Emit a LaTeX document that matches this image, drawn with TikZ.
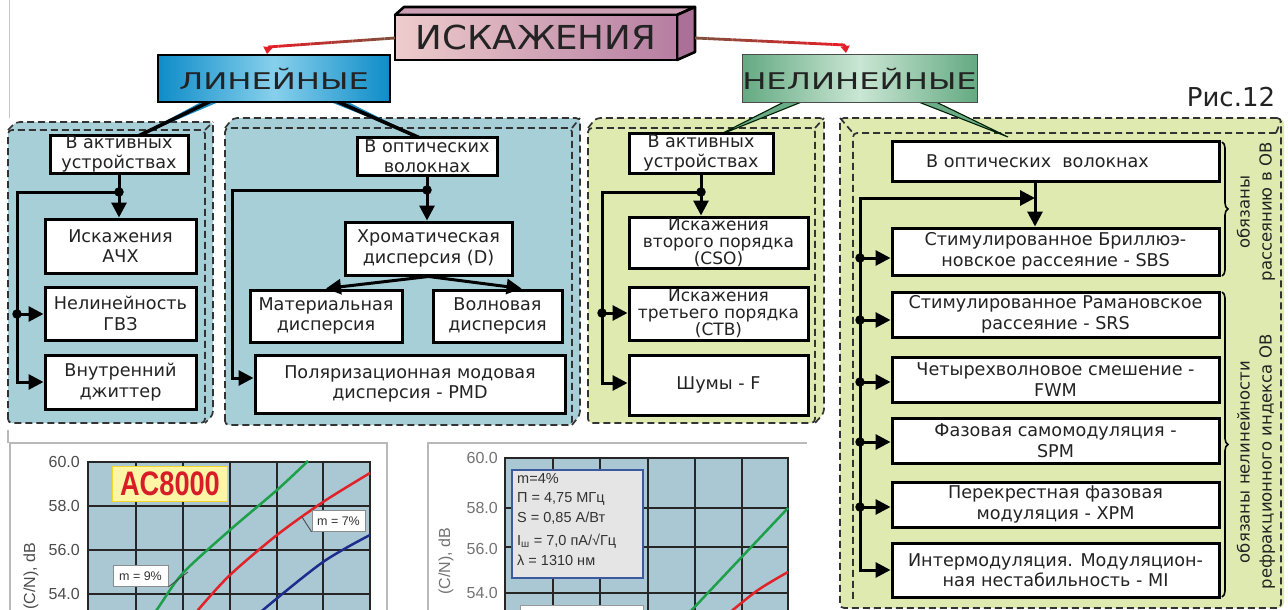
\documentclass[tikz,border=0pt]{standalone}
\usepackage{fontspec}
\setmainfont{DejaVu Sans}
\newfontfamily\arialf{Liberation Sans}
\usetikzlibrary{arrows.meta,decorations.pathreplacing,calc}
\definecolor{panblue}{RGB}{166,207,216}
\definecolor{pangreen}{RGB}{222,234,176}
\definecolor{txt}{RGB}{35,35,35}
\definecolor{linL}{RGB}{14,140,200}
\definecolor{linM}{RGB}{135,208,236}
\definecolor{nelL}{RGB}{100,170,130}
\definecolor{nelM}{RGB}{202,230,212}
\definecolor{iskL}{RGB}{238,204,204}
\definecolor{iskR}{RGB}{182,126,162}
\definecolor{iskTop}{RGB}{205,160,182}
\definecolor{iskSide}{RGB}{170,112,152}
\definecolor{brn}{RGB}{130,80,60}
\definecolor{rd}{RGB}{228,30,40}
\definecolor{plotbg}{RGB}{170,200,212}
\definecolor{cgreen}{RGB}{30,160,75}
\definecolor{cred}{RGB}{225,35,40}
\definecolor{cblue}{RGB}{30,45,140}
\definecolor{acy}{RGB}{255,246,165}
\definecolor{acb}{RGB}{245,215,40}
\definecolor{acr}{RGB}{215,30,40}
\definecolor{infob}{RGB}{60,90,160}
\definecolor{tailb}{RGB}{25,140,195}
\definecolor{tailg}{RGB}{105,172,135}
\newcommand\bxf{\fontsize{17.6}{20.5}\selectfont}
\newcommand\bxs{\fontsize{17}{16.6}\selectfont}
\newcommand\mkbox[7][]{%
  \node[bx,#1,minimum width={(#5-#3)*1pt},minimum height={(#6-#4)*1pt}] (#2) at ({(#3+#5)/2},{(#4+#6)/2}) {#7};}
\tikzset{
  bx/.style={draw=black,line width=3pt,fill=white,text=txt,align=center,inner sep=0pt,font=\bxf},
  conn/.style={draw=black,line width=3pt},
  arr/.style={conn,-{Triangle[length=15pt,width=15pt]}},
  jdot/.style={circle,fill=black,inner sep=0pt,minimum size=9.5pt},
  pan/.style={draw=black!80,line width=1.7pt,dash pattern=on 7pt off 4pt,rounded corners=4pt},
  ax/.style={font=\arialf\fontsize{16}{18}\selectfont,text=black!70,inner sep=0pt},
  grd/.style={draw=black!85,line width=1.4pt},
  crv/.style={line width=2.5pt},
  mlab/.style={draw=black!45,fill=white,line width=0.8pt,font=\arialf\fontsize{12.5}{13}\selectfont,text=black!80,inner sep=0pt,minimum height=21pt},
  brc/.style={decorate,decoration={brace,amplitude=6pt},line width=1.6pt,draw=black},
  rot/.style={rotate=90,align=center,text=txt,font=\fontsize{16.5}{22}\selectfont,inner sep=0pt},
}
\begin{document}
\begin{tikzpicture}[x=1pt,y=-1pt]
\useasboundingbox (0,0) rectangle (1288,610);
\clip (0,0) rectangle (1288,610);
\fill[white] (0,0) rectangle (1288,610);
\draw[gray!45,line width=1pt] (9,0) -- (9,118);

% ---------- panels ----------
\fill[panblue,rounded corners=4pt] (8,130) -- (16,122) -- (213,122) -- (213,415) -- (205,423) -- (8,423) -- cycle;
\draw[pan] (8,423) -- (8,130) -- (205,130) -- (205,423) -- cycle;
\draw[pan] (8,130) -- (16,122) -- (213,122) -- (213,415) -- (205,423);
\draw[pan] (205,130) -- (213,122);

\fill[panblue,rounded corners=4pt] (225,128) -- (233,118) -- (580,118) -- (580,415) -- (572,425) -- (225,425) -- cycle;
\draw[pan] (225,425) -- (225,128) -- (572,128) -- (572,425) -- cycle;
\draw[pan] (225,128) -- (233,118) -- (580,118) -- (580,415) -- (572,425);
\draw[pan] (572,128) -- (580,118);

\fill[pangreen,rounded corners=4pt] (588,128) -- (596,118) -- (824,118) -- (824,413) -- (815,423) -- (588,423) -- cycle;
\draw[pan] (588,423) -- (588,128) -- (815,128) -- (815,423) -- cycle;
\draw[pan] (588,128) -- (596,118) -- (824,118) -- (824,413) -- (815,423);
\draw[pan] (815,128) -- (824,118);

\fill[pangreen,rounded corners=6pt] (840,118) -- (1284,118) -- (1284,608) -- (840,608) -- cycle;
\draw[pan] (1281,118) -- (840,118) -- (840,608) -- (1281,608) -- cycle;
\draw[pan] (1276,133) -- (853,133) -- (853,600);
\draw[pan] (840,118) -- (853,133);
\draw[pan] (1276,133) -- (1281,121);

% ---------- top headings ----------
\filldraw[fill=iskTop,draw=black,line width=2.6pt,line join=round] (395,15) -- (404,7) -- (695,7) -- (677,15) -- cycle;
\filldraw[fill=iskSide,draw=black,line width=2.6pt,line join=round] (677,15) -- (695,7) -- (695,52) -- (677,60) -- cycle;
\node[draw=black,line width=2.8pt,left color=iskL,right color=iskR,minimum width=282pt,minimum height=45pt,inner sep=0pt,text=txt,font=\fontsize{33}{36}\selectfont] (isk) at (536,37.5) {\scalebox{1.08}[1]{ИСКАЖЕНИЯ}};

\coordinate (rL0) at (395,38); \coordinate (rL1) at (268,47); \coordinate (rL2) at (267,54);
\coordinate (rR0) at (695,38); \coordinate (rR1) at (845,45); \coordinate (rR2) at (846,53);
\foreach \i in {0,...,11}{
  \pgfmathtruncatemacro\pc{\i*100/11}
  \draw[line width=2.8pt,draw=rd!\pc!brn] ($(rL0)!{\i/12}!(rL1)$) -- ($(rL0)!{(\i+1)/12}!(rL1)$);
  \draw[line width=2.8pt,draw=rd!\pc!brn] ($(rR0)!{\i/12}!(rR1)$) -- ($(rR0)!{(\i+1)/12}!(rR1)$);
}
\draw[rd,line width=2.6pt,-{Triangle[length=7pt,width=9pt]}] (rL1) -- (rL2);
\draw[rd,line width=2.6pt,-{Triangle[length=7pt,width=9pt]}] (rR1) -- (rR2);

% tails
\fill[tailb] (203,101) -- (221,101) -- (132,139) -- cycle;
\draw[black,line width=3.6pt] (211,101) -- (132,139);
\fill[tailb] (328,101) -- (346,101) -- (420,138) -- cycle;
\draw[black,line width=3.6pt] (336,101) -- (420,138);
\filldraw[fill=tailg,draw=black!70!green!40!black,line width=1.1pt] (786,101) -- (804,101) -- (717,136) -- cycle;
\filldraw[fill=tailg,draw=black!70!green!40!black,line width=1.1pt] (916,101) -- (934,101) -- (1008,137) -- cycle;

\node[draw=black,line width=2.6pt,left color=linL,right color=linL,middle color=linM,minimum width=232pt,minimum height=47pt,inner sep=0pt,text=txt,font=\fontsize{23}{26}\selectfont] (lin) at (274,78.5) {\scalebox{1.4}[1]{ЛИНЕЙНЫЕ}};
\node[draw=black!70,line width=1pt,left color=nelL,right color=nelL,middle color=nelM,minimum width=235pt,minimum height=47pt,inner sep=0pt,text=txt,font=\fontsize{23}{26}\selectfont] (nel) at (859.5,78.5) {\scalebox{1.4}[1]{НЕЛИНЕЙНЫЕ}};
\node[text=txt,font=\fontsize{26}{28}\selectfont,inner sep=0pt] (ris) at (1231,97) {Рис.12};

% ---------- panel 1 ----------
\mkbox{a1}{50}{135}{188}{173}{В активных\\устройствах}
\mkbox{a2}{45}{219}{196}{273}{Искажения\\АЧХ}
\mkbox{a3}{45}{287}{196}{340}{Нелинейность\\ГВЗ}
\mkbox{a4}{45}{355}{196}{409}{Внутренний\\джиттер}
\coordinate (j1) at (119,192);
\coordinate (j1a) at (17,192); \coordinate (j1b) at (17,382); \coordinate (j2) at (17,314);
\draw[conn] (a1.south) -- (j1);
\draw[arr] (j1) -- (j1 |- a2.north);
\draw[arr] (j1) -- (j1a) -- (j1b) -- (j1b -| a4.west);
\draw[arr] (j2) -- (j2 -| a3.west);
\node[jdot] (dj1) at (j1) {};
\node[jdot] (dj2) at (j2) {};

% ---------- panel 2 ----------
\mkbox{b1}{357}{137}{497}{175}{В оптических\\волокнах}
\mkbox{b2}{345}{222}{512}{275}{Хроматическая\\дисперсия (D)}
\mkbox{b3}{250}{290}{402}{342}{Материальная\\дисперсия}
\mkbox{b4}{433}{290}{562}{342}{Волновая\\дисперсия}
\mkbox{b5}{255}{355}{565}{413}{Поляризационная модовая\\дисперсия - PMD}
\coordinate (k1) at (427,190);
\coordinate (k2) at (232,190); \coordinate (k3) at (232,378);
\draw[conn] (b1.south) -- (k1);
\draw[arr] (k1) -- (k1 |- b2.north);
\draw[arr] (k1) -- (k2) -- (k3) -- (k3 -| b5.west);
\draw[arr] (b2.south) -- (b3.north);
\draw[arr] (b2.south) -- ($(b4.north)+(24,0)$);
\node[jdot] (dk1) at (k1) {};

% ---------- panel 3 ----------
\mkbox{c1}{629}{133}{773}{173}{В активных\\устройствах}
\mkbox[font=\bxs]{c2}{629}{217}{808}{268}{Искажения\\второго порядка\\(CSO)}
\mkbox[font=\bxs]{c3}{629}{287}{808}{340}{Искажения\\третьего порядка\\(CTB)}
\mkbox{c4}{629}{355}{808}{415}{Шумы - F}
\coordinate (m1) at (701,192);
\coordinate (m2) at (602,192); \coordinate (m3) at (602,383); \coordinate (m4) at (602,313);
\draw[conn] (c1.south) -- (m1);
\draw[arr] (m1) -- (m1 |- c2.north);
\draw[arr] (m1) -- (m2) -- (m3) -- (m3 -| c4.west);
\draw[arr] (m4) -- (m4 -| c3.west);
\node[jdot] (dm1) at (m1) {};
\node[jdot] (dm4) at (m4) {};

% ---------- panel 4 ----------
\mkbox{d1}{892}{141}{1219}{181}{В оптических~~волокнах\hspace*{36pt}}
\mkbox{d2}{892}{228}{1219}{275}{Стимулированное Бриллюэ-\\новское рассеяние - SBS}
\mkbox{d3}{892}{292}{1219}{337}{Стимулированное Рамановское\\рассеяние - SRS}
\mkbox{d4}{892}{357}{1219}{402}{Четырехволновое смешение -\\FWM}
\mkbox{d5}{892}{418}{1219}{463}{Фазовая самомодуляция -\\SPM}
\mkbox{d6}{892}{482}{1219}{527}{Перекрестная фазовая\\модуляция - XPM}
\mkbox{d7}{892}{543}{1219}{597}{Интермодуляция. Модуляцион-\\ная нестабильность - MI}
\coordinate (n1) at (1035,198);
\coordinate (n2) at (860,198); \coordinate (n3) at (860,570);
\draw[arr] (n1 |- d1.south) -- (n1 |- d2.north);
\draw[arr] (n3) -- (n2) -- (n1);
\draw[arr] (n2) -- (n3) -- (n3 -| d7.west);
\foreach \y/\t in {258/d2,320/d3,382/d4,442/d5,507/d6}{
  \coordinate (p\t) at (860,\y);
  \draw[arr] (p\t) -- (p\t -| \t.west);
  \node[jdot] (dot\t) at (p\t) {};
}
\draw[brc] (1222,142) -- (1222,276);
\draw[brc] (1222,292) -- (1222,597);
\node[rot] (l1) at (1256,212) {обязаны\\рассеянию в ОВ};
\node[rot] (l2) at (1256,462) {обязаны нелинейности\\рефракционного индекса ОВ};

% ---------- chart 1 ----------
\draw[gray!55,line width=1.2pt] (8,430) -- (8,443);
\draw[gray!55,line width=1.2pt] (10,615) -- (10,443) -- (387,443) -- (387,615);
\fill[plotbg] (88,462) rectangle (370,620);
\foreach \x in {136,183,230,277,323} \draw[grd] (\x,462) -- (\x,620);
\foreach \y in {506,550,594} \draw[grd] (88,\y) -- (370,\y);
\draw[draw=black!85,line width=2pt] (88,620) -- (88,462) -- (370,462) -- (370,620);
\foreach \v/\y in {60.0/462,58.0/506,56.0/550,54.0/594} \node[ax,anchor=east] (ya\y) at (80,\y) {\v};
\node[ax,rotate=90,anchor=east] (ylab1) at (31,543) {(C/N), dB};
\draw[crv,cgreen] plot[smooth] coordinates {(150,618) (158,608) (183,573) (230,530) (277,490) (308,461)};
\draw[crv,cred] plot[smooth] coordinates {(193,618) (198,610) (230,575) (277,535) (323,502) (370,473)};
\draw[crv,cblue] plot[smooth] coordinates {(257,618) (263,610) (323,562) (370,535)};
\node[draw=acb,line width=1.5pt,fill=acy,minimum width=115pt,minimum height=35pt,inner sep=0pt,text=acr,font=\arialf\bfseries\fontsize{34}{36}\selectfont] (ac) at (170,484) {\scalebox{0.8}[1]{AC8000}};
\node[mlab,minimum width=53pt] (m7) at (338.5,521) {m = 7\%};
\draw[black!70,line width=0.9pt] (302,517) -- (m7.south west);
\node[mlab,minimum width=55pt] (m9) at (140.5,576) {m = 9\%};
\draw[black!70,line width=0.9pt] (m9.south east) -- (188,572);

% ---------- chart 2 ----------
\draw[gray!55,line width=1.2pt] (428,615) -- (428,443) -- (807,443);
\fill[plotbg] (505,458) rectangle (788,620);
\foreach \x in {553,600,648,695,742} \draw[grd] (\x,458) -- (\x,620);
\foreach \y in {508,547,593} \draw[grd] (505,\y) -- (788,\y);
\draw[draw=black!85,line width=2pt] (505,620) -- (505,458) -- (788,458) -- (788,620);
\foreach \v/\y in {60.0/458,58.0/508,56.0/549,54.0/593} \node[ax,anchor=east,text=black!55] (yb\y) at (498,\y) {\v};
\node[ax,rotate=90,anchor=east,text=black!55] (ylab2) at (446,528) {(C/N), dB};
\draw[crv,cgreen] (688,614) -- (788,508);
\draw[crv,cred] plot[smooth] coordinates {(728,614) (758,590) (788,572)};
\node[draw=infob,line width=1.8pt,fill=black!10,minimum width=131pt,minimum height=108pt,inner sep=0pt] (info) at (577.5,524) {};
\node[anchor=north west,align=left,inner sep=0pt,text=black!80,font=\arialf\fontsize{14.5}{19.5}\selectfont] (infot) at (517,473) {m=4\%\\П = 4,75 МГц\\S = 0,85 А/Вт\\[4pt]I\textsubscript{ш} = 7,0 пА/√Гц\\λ = 1310 нм};
\node[draw=black!40,fill=white,line width=0.8pt,minimum width=123pt,minimum height=14pt,inner sep=0pt] (lb2) at (581.5,612) {};
\end{tikzpicture}
\end{document}
